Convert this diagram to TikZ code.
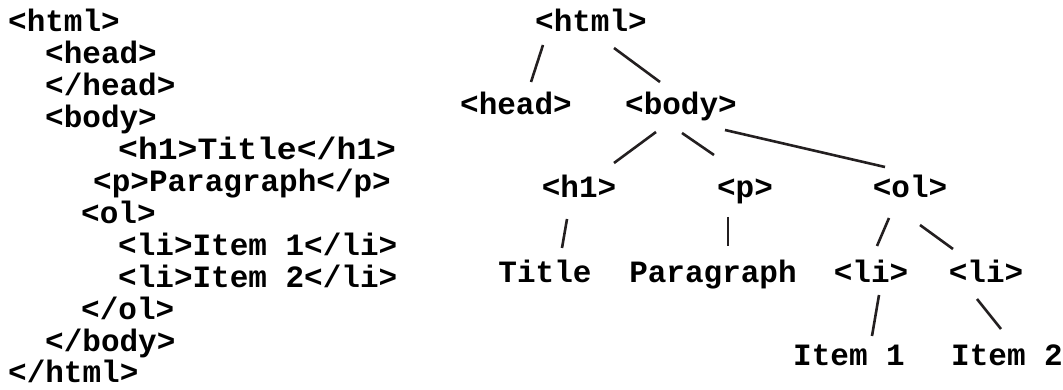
\documentclass[tikz,border=0pt]{standalone}
\usepackage{fontspec}
\setmonofont{Liberation Mono}
\usetikzlibrary{calc}
\begin{document}
\begin{tikzpicture}[x=1pt,y=-1pt,
  code/.style={anchor=base west,inner sep=0pt,font=\fontsize{31}{31}\selectfont\ttfamily\bfseries},
  tag/.style={anchor=base,inner sep=0pt,font=\fontsize{31}{31}\selectfont\ttfamily\bfseries},
  edge/.style={line width=2.6pt,draw={rgb,255:red,35;green,31;blue,32}}]
\useasboundingbox (0,0) rectangle (1063,390);
% source code listing
\node[code] (c1)  at (8,32)     {<html>};
\node[code] (c2)  at (45,63.9)  {<head>};
\node[code] (c3)  at (45,95.8)  {</head>};
\node[code] (c4)  at (45,127.7) {<body>};
\node[code] (c5)  at (118,159.6){\scalebox{1.067}[1]{<h1>Title</h1>}};
\node[code] (c6)  at (93,191.5) {<p>Paragraph</p>};
\node[code] (c7)  at (81,223.4) {<ol>};
\node[code] (c8)  at (118,255.3){<li>Item 1</li>};
\node[code] (c9)  at (118,287.2){<li>Item 2</li>};
\node[code] (c10) at (81,319.1) {</ol>};
\node[code] (c11) at (45,351)   {</body>};
\node[code] (c12) at (8,382.9)  {</html>};
% tree
\node[tag] (html)  at (591,32)  {<html>};
\node[tag] (head)  at (516,115) {<head>};
\node[tag] (body)  at (681,115) {<body>};
\node[tag] (h1)    at (579,198) {<h1>};
\node[tag] (p)     at (745,198) {<p>};
\node[tag] (ol)    at (910,198) {<ol>};
\node[tag] (title) at (545,282) {Title};
\node[tag] (para)  at (713,282) {Paragraph};
\node[tag] (li1)   at (871,282) {<li>};
\node[tag] (li2)   at (986,282) {<li>};
\node[tag] (item1) at (849,365) {Item 1};
\node[tag] (item2) at (1007,365){Item 2};
% edges
\draw[edge] ($(html.base)+(-48,13)$) -- ($(head.base)+(15,-33)$);
\draw[edge] ($(html.base)+(23,16)$)  -- ($(body.base)+(-21,-33)$);
\draw[edge] ($(body.base)+(-25,17)$) -- ($(h1.base)+(35,-35)$);
\draw[edge] ($(body.base)+(1,18)$)   -- ($(p.base)+(-31,-43)$);
\draw[edge] ($(body.base)+(44,15)$)  -- ($(ol.base)+(-25,-31)$);
\draw[edge] ($(h1.base)+(-12,21)$)   -- ($(title.base)+(17,-34)$);
\draw[edge] ($(p.base)+(-17,19)$)    -- ($(para.base)+(15,-36)$);
\draw[edge] ($(ol.base)+(-21,20)$)   -- ($(li1.base)+(6,-36)$);
\draw[edge] ($(ol.base)+(10,27)$)    -- ($(li2.base)+(-33,-33)$);
\draw[edge] ($(li1.base)+(8,13)$)    -- ($(item1.base)+(23,-29)$);
\draw[edge] ($(li2.base)+(-9,17)$)   -- ($(item2.base)+(-6,-36)$);
\end{tikzpicture}
\end{document}
